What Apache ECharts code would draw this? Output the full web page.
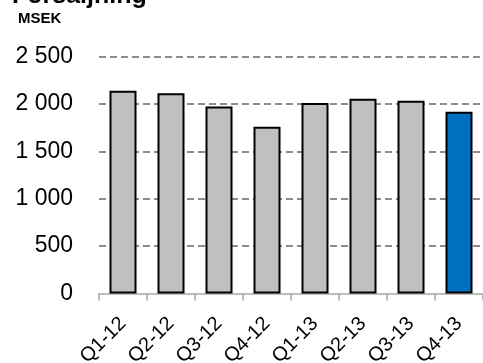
<!DOCTYPE html>
<html>
<head>
<meta charset="utf-8">
<script src="https://cdn.jsdelivr.net/npm/echarts@6/dist/echarts.min.js"></script>
<style>
  html, body { margin: 0; padding: 0; background: #fff; }
  #chart { width: 483px; height: 363px; }
</style>
</head>
<body>
<div id="chart"></div>
<script>
// Quarterly sales, MSEK
const quarters = ['Q1-12', 'Q2-12', 'Q3-12', 'Q4-12', 'Q1-13', 'Q2-13', 'Q3-13', 'Q4-13'];
const sales = [2140, 2115, 1975, 1760, 2010, 2055, 2035, 1920];
const yTicks = [0, 500, 1000, 1500, 2000, 2500];

const FONT = 'Liberation Sans';
const GREY = '#c0c0c0';
const BLUE = '#0070c0';

const chart = echarts.init(document.getElementById('chart'), null, { renderer: 'canvas' });

// latest quarter highlighted in blue
const barData = sales.map((v, i) => ({
  value: v,
  itemStyle: { color: i === sales.length - 1 ? BLUE : GREY }
}));

chart.setOption({
  animation: false,
  backgroundColor: '#fff',
  grid: { left: 99, right: 0, top: 56.7, bottom: 69.5, containLabel: false, outerBoundsMode: 'none' },
  graphic: [
    {
      type: 'text', left: 12, top: -16,
      style: { text: 'Försäljning', font: 'bold 25px ' + FONT, fill: '#000' }
    },
    {
      type: 'text', left: 18, top: 11,
      style: { text: 'MSEK', font: 'bold 15px ' + FONT, fill: '#000' }
    }
  ],
  xAxis: {
    type: 'category',
    data: quarters,
    boundaryGap: true,
    axisLine: { show: true, lineStyle: { color: '#a6a6a6', width: 1.5 } },
    axisTick: { show: true, alignWithLabel: false, length: 7, inside: false,
                lineStyle: { color: '#a6a6a6', width: 1.5 } },
    axisLabel: { rotate: 45, margin: 27, fontFamily: FONT, fontSize: 20, color: '#000', interval: 0 }
  },
  yAxis: {
    type: 'value',
    min: yTicks[0],
    max: yTicks[yTicks.length - 1],
    interval: yTicks[1] - yTicks[0],
    axisLine: { show: false },
    axisTick: { show: false },
    axisLabel: {
      margin: 26, fontFamily: FONT, fontSize: 23, color: '#000',
      formatter: v => String(v).replace(/\B(?=(\d{3})+(?!\d))/g, ' ')
    },
    splitLine: {
      show: true,
      showMinLine: false,
      lineStyle: { color: '#8c8c8c', width: 2, type: [7, 4] }
    }
  },
  series: [{
    type: 'bar',
    data: barData,
    barWidth: 27,
    itemStyle: { borderColor: '#000', borderWidth: 2 }
  }]
});
</script>
</body>
</html>
